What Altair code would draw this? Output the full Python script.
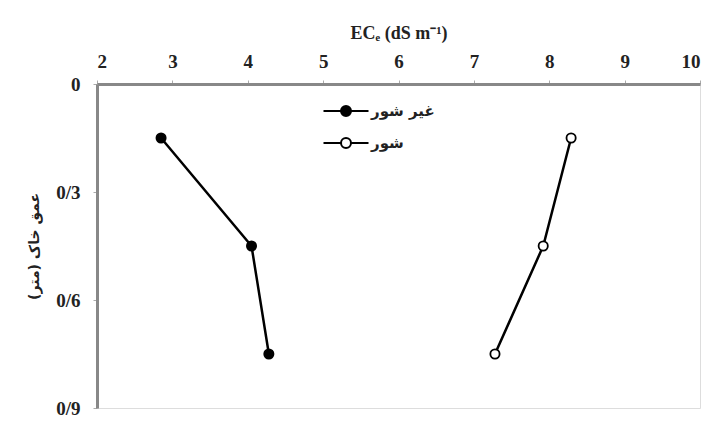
import altair as alt
import pandas as pd

series_names = ["غیر شور", "شور"]
depth = [0.15, 0.45, 0.75]
ec_non_saline = [2.85, 4.05, 4.28]
ec_saline = [8.29, 7.92, 7.28]
x_ticks = [2, 3, 4, 5, 6, 7, 8, 9, 10]
y_ticks = [0, 0.3, 0.6, 0.9]

rows = []
for d, v in zip(depth, ec_non_saline):
    rows.append({"series": series_names[0], "depth": d, "ec": v})
for d, v in zip(depth, ec_saline):
    rows.append({"series": series_names[1], "depth": d, "ec": v})
df = pd.DataFrame(rows)

serif = "Liberation Serif"
fa_font = "DejaVu Sans"

x_enc = alt.X(
    "ec:Q",
    scale=alt.Scale(domain=[2, 10], nice=False, zero=False),
    axis=alt.Axis(
        orient="top",
        values=x_ticks,
        title="ECₑ (dS m⁻¹)",
        titleFont=serif,
        titleFontSize=18,
        titleFontWeight="bold",
        titleColor="#222",
        titlePadding=10,
        labelFont=serif,
        labelFontSize=19,
        labelFontWeight="bold",
        labelColor="#222",
        labelPadding=9,
        tickSize=4,
        tickColor="#aaa",
        domainColor="#888",
        domainWidth=3,
        grid=False,
    ),
)
y_enc = alt.Y(
    "depth:Q",
    scale=alt.Scale(domain=[0, 0.9], reverse=True, nice=False, zero=False),
    axis=alt.Axis(
        values=y_ticks,
        labelExpr="datum.value == 0 ? '0' : replace(format(datum.value, '.1f'), '.', '/')",
        title="عمق خاک (متر)",
        titleFont=fa_font,
        titleFontSize=14,
        titleFontWeight="bold",
        titleColor="#222",
        titlePadding=14,
        labelFont=serif,
        labelFontSize=19,
        labelFontWeight="bold",
        labelColor="#222",
        labelPadding=13,
        tickSize=4,
        tickColor="#aaa",
        domainColor="#888",
        domainWidth=3,
        grid=False,
    ),
)

legend_path = (
    "M-1.5,0L-0.333,0M0.333,0L1.5,0"
    "M-0.333,0A0.333,0.333,0,1,0,0.333,0A0.333,0.333,0,1,0,-0.333,0Z"
)

lines = alt.Chart(df).mark_line(color="black", strokeWidth=2.5).encode(
    x=x_enc,
    y=y_enc,
    detail="series:N",
    order="depth:Q",
)

points = alt.Chart(df).mark_point(
    filled=True, stroke="black", strokeWidth=1.8, size=85, opacity=1
).encode(
    x=x_enc,
    y=y_enc,
    fill=alt.Fill(
        "series:N",
        scale=alt.Scale(domain=series_names, range=["black", "white"]),
        sort=series_names,
        legend=alt.Legend(
            title=None,
            orient="none",
            legendX=233,
            legendY=11,
            padding=0,
            symbolType=legend_path,
            symbolSize=900,
            symbolStrokeColor="black",
            symbolStrokeWidth=2,
            symbolOffset=0,
            rowPadding=7,
            labelOffset=9,
            labelFont=fa_font,
            labelFontSize=15,
            labelFontWeight="bold",
            labelColor="#222",
        ),
    ),
)

chart = (
    alt.layer(lines, points)
    .properties(
        width=603,
        height=324,
        padding={"left": 19, "top": 16, "right": 0, "bottom": 0},
    )
    .configure_view(stroke="#111", strokeWidth=2)
    .configure(background="white")
)

chart.save("out.html", embed_options={"renderer": "svg", "actions": False})
